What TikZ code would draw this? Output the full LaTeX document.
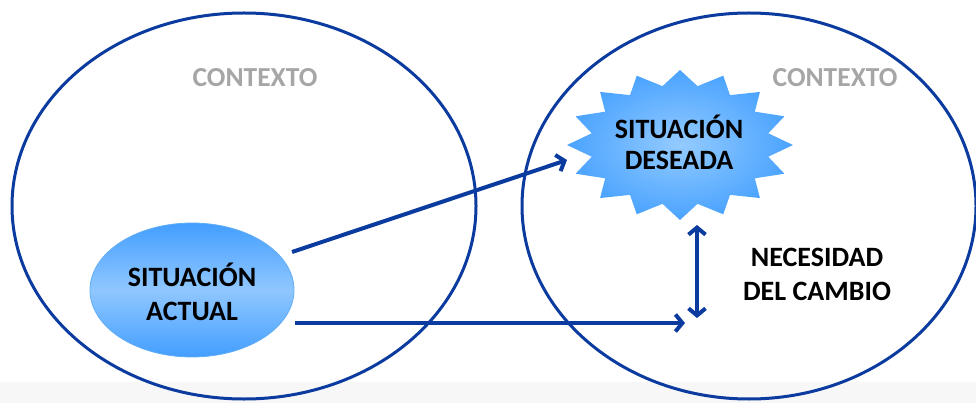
\documentclass[tikz,border=0pt]{standalone}
\usepackage{fontspec}
\setmainfont{Carlito}
\usetikzlibrary{arrows.meta,shapes.geometric}
\definecolor{lineblue}{HTML}{0B3B9F}
\definecolor{ctxgray}{HTML}{A6A6A6}
\definecolor{bandgray}{HTML}{F7F7F8}
\definecolor{shadeDark}{HTML}{439EFF}
\definecolor{shadeLight}{HTML}{90C7FF}
\definecolor{starIn}{HTML}{94CBFF}
\definecolor{starOut}{HTML}{4AA3FF}
\definecolor{rimblue}{HTML}{62AEF5}
\tikzset{
  bigell/.style={ellipse, draw=lineblue, line width=3pt, inner sep=0pt},
  ctxlabel/.style={font=\fontsize{27.5}{32}\selectfont\bfseries, text=ctxgray},
  maintext/.style={font=\fontsize{28}{34}\selectfont\bfseries, text=black, align=center},
  arr/.style={draw=lineblue, line width=4pt, -{Straight Barb[length=7pt,width=17pt]}},
  darr/.style={draw=lineblue, line width=4pt, {Straight Barb[length=7pt,width=17pt]}-{Straight Barb[length=7pt,width=17pt]}}
}
\begin{document}
\begin{tikzpicture}[x=1pt,y=-1pt]
\useasboundingbox (0,0) rectangle (976,403);
\fill[bandgray] (0,382) rectangle (976,403);
% context ellipses
\node[bigell, minimum width=464pt, minimum height=386pt] (ctxA) at (244,206) {};
\node[bigell, minimum width=454pt, minimum height=386pt] (ctxB) at (749,206) {};
\node[ctxlabel] (ctxAlab) at (255,78) {CONTEXTO};
\node[ctxlabel] (ctxBlab) at (835,78) {CONTEXTO};
% current situation
\node[ellipse, draw=rimblue, line width=0.8pt, top color=shadeDark, bottom color=shadeDark, middle color=shadeLight,
      minimum width=204pt, minimum height=134pt, inner sep=0pt] (actual) at (192,290) {};
\node[maintext] (actualtxt) at (192,292) {SITUACIÓN\\ACTUAL};
% desired situation star
\shade[inner color=starIn, outer color=starOut]
  plot[samples at={0,...,31}, variable=\k]
  ({680 + (mod(\k,2)==0 ? 113 : 90)*cos(90+\k*11.25)},
   {145 - (mod(\k,2)==0 ? 75 : 60)*sin(90+\k*11.25)}) -- cycle;
\node[maintext, font=\fontsize{28}{31}\selectfont\bfseries] (deseada) at (679,142) {SITUACIÓN\\DESEADA};
\node[maintext] (necesidad) at (817,274) {NECESIDAD\\DEL CAMBIO};
% connectors
\coordinate (a1s) at (292,252);
\coordinate (a1e) at (567,160);
\coordinate (a2s) at (295,323);
\coordinate (a2e) at (685,323);
\coordinate (d1) at (697,225);
\coordinate (d2) at (697,318);
\draw[arr] (a1s) -- (a1e);
\draw[arr] (a2s) -- (a2e);
\draw[darr] (d1) -- (d2);
\end{tikzpicture}
\end{document}
